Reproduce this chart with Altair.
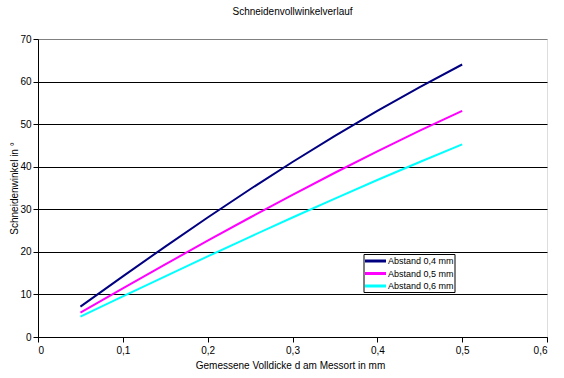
import altair as alt
import pandas as pd

dicke = [0.05, 0.10, 0.15, 0.20, 0.25, 0.30, 0.35, 0.40, 0.45, 0.50]
abstand_04 = [7.15, 14.25, 21.24, 28.07, 34.71, 41.11, 47.26, 53.13, 58.72, 64.01]
abstand_05 = [5.72, 11.42, 17.06, 22.62, 28.07, 33.40, 38.58, 43.60, 48.46, 53.13]
abstand_06 = [4.77, 9.53, 14.25, 18.92, 23.54, 28.07, 32.52, 36.87, 41.11, 45.24]
series_names = ["Abstand 0,4 mm", "Abstand 0,5 mm", "Abstand 0,6 mm"]
series_colors = ["#000080", "#FF00FF", "#00FFFF"]
x_ticks = [0, 0.1, 0.2, 0.3, 0.4, 0.5, 0.6]
y_ticks = [0, 10, 20, 30, 40, 50, 60, 70]

rows = []
for name, vals in zip(series_names, [abstand_04, abstand_05, abstand_06]):
    for d, v in zip(dicke, vals):
        rows.append({"d": d, "w": v, "serie": name})
df = pd.DataFrame(rows)
legend_df = pd.DataFrame({"serie": series_names, "idx": list(range(len(series_names)))})

FONT = "Liberation Sans"
color_scale = alt.Scale(domain=series_names, range=series_colors)

lines = alt.Chart(df).mark_line(strokeWidth=2).encode(
    x=alt.X("d:Q",
            scale=alt.Scale(domain=[0, 0.6], nice=False, zero=True),
            axis=alt.Axis(values=x_ticks, grid=False,
                          labelExpr="datum.value == 0 ? '0' : replace(format(datum.value, '.1f'), '.', ',')",
                          title="Gemessene Volldicke d am Messort in mm",
                          titleX=252, titleY=28, titleBaseline="middle",
                          titleFontWeight="normal", titleFontSize=10, titleFont=FONT,
                          labelFont=FONT, labelFontSize=10, labelColor="black",
                          tickSize=5, tickColor="black", domainColor="black",
                          labelPadding=3, titleColor="black")),
    y=alt.Y("w:Q",
            scale=alt.Scale(domain=[0, 70], nice=False),
            axis=alt.Axis(values=y_ticks, grid=True,
                          gridColor={"condition": {"test": "datum.value == 70", "value": "#808080"},
                                     "value": "black"},
                          gridOpacity=1, gridWidth=1,
                          title="Schneidenwinkel in °",
                          titleX=-24, titleY=149, titleAngle=-90, titleBaseline="middle",
                          titleAlign="center",
                          titleFontWeight="normal", titleFontSize=10, titleFont=FONT,
                          labelFont=FONT, labelFontSize=10, labelColor="black",
                          tickSize=5, tickColor="black", domainColor="black",
                          labelPadding=2, titleColor="black")),
    color=alt.Color("serie:N", scale=color_scale, legend=None),
)

legend_box = alt.Chart(legend_df).mark_rect(
    fill="white", stroke="black", strokeWidth=1
).encode(
    x=alt.value(326), x2=alt.value(417), y=alt.value(215.5), y2=alt.value(253.5)
).transform_filter("datum.idx == 0")

legend_lines = alt.Chart(legend_df).transform_calculate(
    ly="222 + datum.idx * 12.5"
).mark_rule(strokeWidth=3).encode(
    x=alt.value(327), x2=alt.value(348),
    y=alt.Y("ly:Q", scale=None),
    color=alt.Color("serie:N", scale=color_scale, legend=None),
)

legend_text = alt.Chart(legend_df).transform_calculate(
    ly="222 + datum.idx * 12.5"
).mark_text(align="left", baseline="middle", font=FONT, fontSize=9, color="black").encode(
    x=alt.value(350),
    y=alt.Y("ly:Q", scale=None),
    text="serie:N",
)

chart = alt.layer(lines, legend_box, legend_lines, legend_text).properties(
    width=509, height=298,
    title=alt.TitleParams("Schneidenvollwinkelverlauf", font=FONT, fontSize=10,
                          fontWeight="normal", color="black", anchor="middle", offset=17),
    autosize=alt.AutoSizeParams(type="none"),
    padding={"left": 38, "top": 39, "right": 17, "bottom": 41},
).configure_view(
    fill="#C0C0C0", stroke="#808080", strokeWidth=1
).configure(background="white")

chart.save("out.html", embed_options={"renderer": "svg", "actions": False})
